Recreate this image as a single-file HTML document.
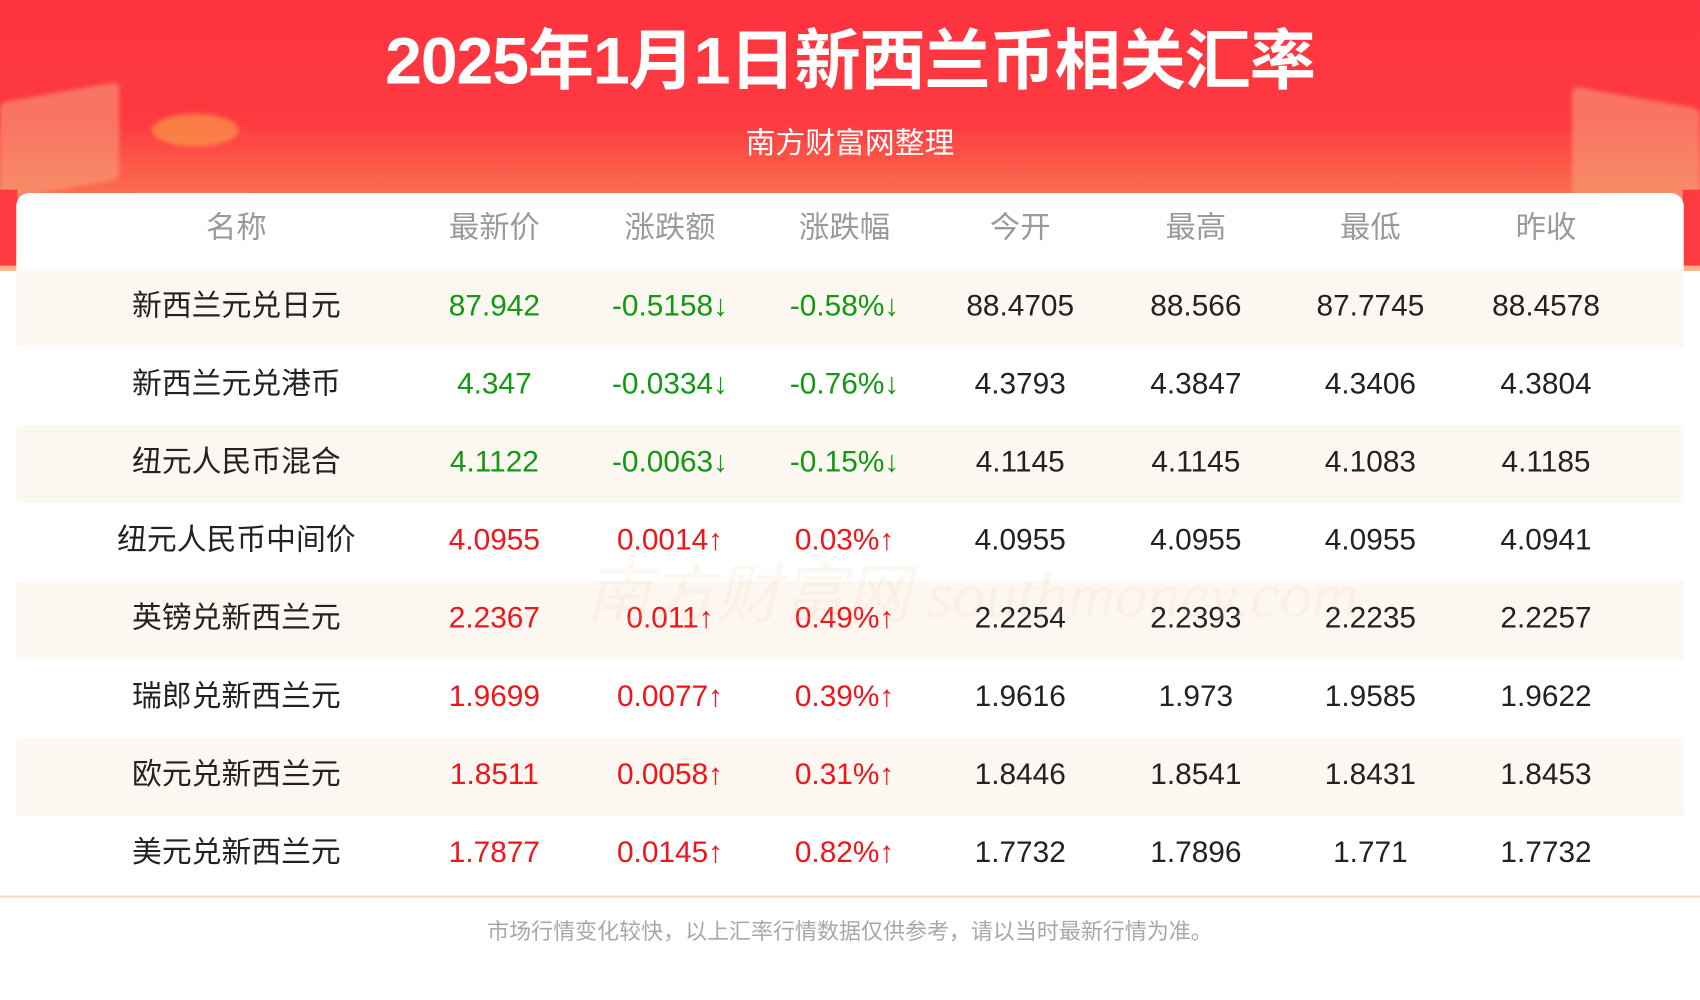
<!DOCTYPE html>
<html><head><meta charset="utf-8">
<style>
html,body{margin:0;padding:0;width:1700px;height:1000px;overflow:hidden;background:#fff}
#wrap{position:absolute;left:0;top:0;width:1568px;height:922px;transform:scale(1.08418);transform-origin:0 0;font-family:"Liberation Sans","Noto Sans CJK SC",sans-serif}
#hdr{position:absolute;left:0;top:0;width:1568px;height:250px;background:linear-gradient(180deg,#fd3340 0%,#fd3a40 45%,#fb6a4e 70%,#fcb48a 100%)}
.deco{position:absolute;border-radius:6px;opacity:.55;filter:blur(2px)}
#title{position:absolute;left:0;top:6px;width:1568px;text-align:center;color:#fff;font-size:61px;font-weight:bold;letter-spacing:-1px}
#sub{position:absolute;left:0;top:109px;width:1568px;text-align:center;color:#fff;font-size:27.5px}
#card{position:absolute;left:15px;top:178px;width:1538px;height:650px;background:#fff;border-radius:12px 12px 0 0}
.row{position:absolute;left:0;width:1538px;height:72px}
.row.alt{background:#fdf7f1}
.c{position:absolute;top:0;height:72px;line-height:68px;text-align:center;width:280px;margin-left:-140px;font-size:27.5px;color:#222;white-space:nowrap}
.h .c{color:#9a9a9a;font-size:28px;line-height:64px}
.g{color:#119911!important}.r{color:#f0151b!important}
#line{position:absolute;left:0;top:826px;width:1568px;height:2px;background:#fbd9c0}
#foot{position:absolute;left:0;top:842px;width:1568px;text-align:center;color:#a8a8a8;font-size:20.3px}
#wm{position:absolute;left:540px;top:500px;font-size:60px;color:rgba(250,200,160,.15);font-family:"Liberation Serif",serif;font-style:italic}
</style></head><body>
<div id="wrap">
<div id="hdr">
 <div class="deco" style="left:0;top:85px;width:110px;height:90px;background:#f7a57f;transform:skewY(-10deg)"></div>
 <div class="deco" style="left:120px;top:180px;width:110px;height:45px;background:#f9c39a"></div>
 <div class="deco" style="left:140px;top:105px;width:80px;height:30px;background:#fbb04a;border-radius:50%"></div>
 <div class="deco" style="left:1450px;top:90px;width:118px;height:100px;background:#f7a57f;transform:skewY(10deg)"></div>
 <div class="deco" style="left:1350px;top:190px;width:110px;height:40px;background:#f9c39a"></div>
</div>
<div style="position:absolute;left:0;top:175px;width:16px;height:70px;background:#fd3a40"></div>
<div style="position:absolute;left:1552px;top:175px;width:16px;height:70px;background:#fd3a40"></div>
<div id="title">2025年1月1日新西兰币相关汇率</div>
<div id="sub">南方财富网整理</div>
<div id="card"></div>
<div id="wm">南方财富网 southmoney.com</div>
<div id="line"></div>
<div id="foot">市场行情变化较快，以上汇率行情数据仅供参考，请以当时最新行情为准。</div>
</div>
<script>
const headers=["名称","最新价","涨跌额","涨跌幅","今开","最高","最低","昨收"];
const names=["新西兰元兑日元","新西兰元兑港币","纽元人民币混合","纽元人民币中间价","英镑兑新西兰元","瑞郎兑新西兰元","欧元兑新西兰元","美元兑新西兰元"];
const latest=["87.942","4.347","4.1122","4.0955","2.2367","1.9699","1.8511","1.7877"];
const change=["-0.5158","-0.0334","-0.0063","0.0014","0.011","0.0077","0.0058","0.0145"];
const pct=["-0.58%","-0.76%","-0.15%","0.03%","0.49%","0.39%","0.31%","0.82%"];
const open=["88.4705","4.3793","4.1145","4.0955","2.2254","1.9616","1.8446","1.7732"];
const high=["88.566","4.3847","4.1145","4.0955","2.2393","1.973","1.8541","1.7896"];
const low=["87.7745","4.3406","4.1083","4.0955","2.2235","1.9585","1.8431","1.771"];
const prev=["88.4578","4.3804","4.1185","4.0941","2.2257","1.9622","1.8453","1.7732"];
const colX=[203,441,603,764,926,1088,1249,1411];
const card=document.getElementById('card');
const hr=document.createElement('div');hr.className='row h';hr.style.top='0px';


headers.forEach((t,i)=>{const c=document.createElement('div');c.className='c';c.style.left=colX[i]+'px';c.textContent=t;


hr.appendChild(c);});
card.appendChild(hr);
names.forEach((n,r)=>{
 const row=document.createElement('div');row.className='row'+(r%2==0?' alt':'');row.style.top=(70+r*72)+'px';
 
 
 const down=change[r].startsWith('-');const cls=down?'g':'r';const ar=down?'↓':'↑';
 const vals=[[n,''],[latest[r],cls],[change[r]+ar,cls],[pct[r]+ar,cls],[open[r],''],[high[r],''],[low[r],''],[prev[r],'']];
 vals.forEach((v,i)=>{const c=document.createElement('div');c.className='c '+v[1];c.style.left=colX[i]+'px';c.textContent=v[0];
 
 
 row.appendChild(c);});
 card.appendChild(row);
});
</script>
</body></html>
